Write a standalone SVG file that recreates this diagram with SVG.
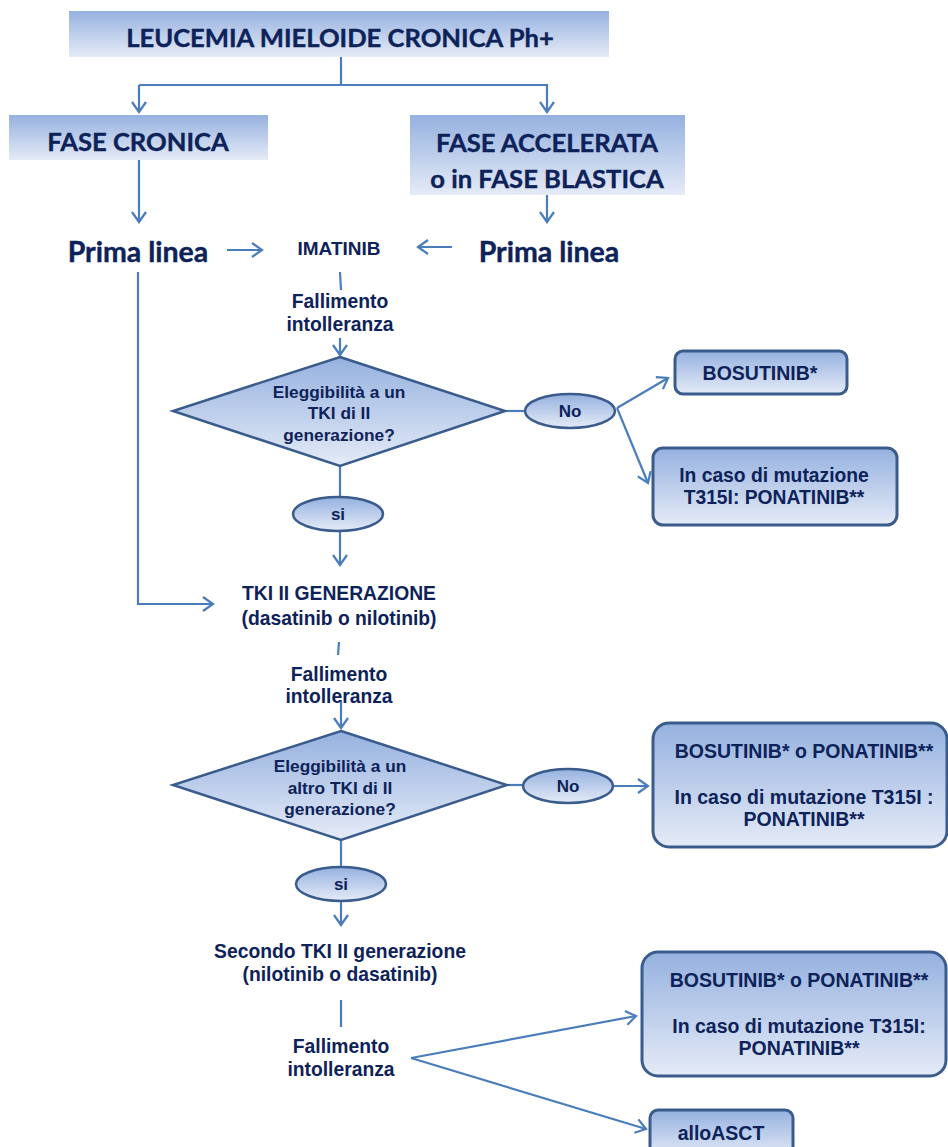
<svg xmlns="http://www.w3.org/2000/svg" width="948" height="1147" viewBox="0 0 948 1147">
<defs>
<linearGradient id="g" x1="0" y1="0" x2="0" y2="1">
<stop offset="0" stop-color="#95b1df"/>
<stop offset="1" stop-color="#e5ebf7"/>
</linearGradient>
<marker id="ah" markerUnits="userSpaceOnUse" markerWidth="20" markerHeight="20" viewBox="-12 -10 14 20" refX="0" refY="0" orient="auto">
<path d="M-10,-7 L0,0 L-10,7" fill="none" stroke="#4a7dbb" stroke-width="2.2"/>
</marker>
<style>
.hd{font-family:Lato,"Liberation Sans",sans-serif;font-weight:bold;fill:#0d2259;text-anchor:middle;stroke:#0d2259;stroke-width:0.4}
.t{font-family:"Liberation Sans",Arial,sans-serif;font-weight:bold;fill:#0d2259;text-anchor:middle}
.c{fill:none;stroke:#4a7dbb;stroke-width:2.2}
.a{fill:none;stroke:#4a7dbb;stroke-width:2.2;marker-end:url(#ah)}
.bx{fill:url(#g);stroke:#3a5c8c;stroke-width:3}
.dm{fill:url(#g);stroke:#3a5c8c;stroke-width:2.5}
.hb{fill:url(#g)}
</style>
</defs>
<rect width="948" height="1147" fill="#ffffff"/>

<g id="connectors">
<path class="c" d="M341,57 V85 H139"/>
<path class="a" d="M139,85 V112"/>
<path class="a" d="M341,85 H547 V112"/>
<path class="a" d="M139,160 V222"/>
<path class="a" d="M547,195 V222"/>
<path class="a" d="M227,250 H262"/>
<path class="a" d="M452,247 H418"/>
<path class="c" d="M340,272 L341,290"/>
<path class="a" d="M340,338 V355"/>
<path class="c" d="M505,411 H527"/>
<path class="a" d="M617,408 L668,378"/>
<path class="a" d="M617,408 L648,483"/>
<path class="c" d="M340,466 V497"/>
<path class="a" d="M340,531 V565"/>
<path class="a" d="M138,272 V604 H213"/>
<path class="c" d="M339,642 L338,655"/>
<path class="a" d="M341,700 V728"/>
<path class="c" d="M507,785 H525"/>
<path class="a" d="M613,786 H648"/>
<path class="c" d="M341,840 V868"/>
<path class="a" d="M341,901 V925"/>
<path class="c" d="M341,1000 V1027"/>
<path class="a" d="M411,1058 L636,1016"/>
<path class="a" d="M411,1058 L646,1129"/>
</g>

<g id="title">
<rect class="hb" x="69" y="11" width="540" height="46"/>
<text class="hd" x="340" y="47" font-size="25.6">LEUCEMIA MIELOIDE CRONICA Ph+</text>
</g>
<g id="fase-cronica">
<rect class="hb" x="9" y="115" width="259" height="45"/>
<text class="hd" x="138" y="151" font-size="25.6">FASE CRONICA</text>
</g>
<g id="fase-accelerata">
<rect class="hb" x="410" y="115" width="275" height="80"/>
<text class="hd" x="547" y="152" font-size="25.6">FASE ACCELERATA</text>
<text class="hd" x="547" y="188" font-size="25.6">o in FASE BLASTICA</text>
</g>
<g id="prima-linea-sx">
<text class="hd" x="138" y="262" font-size="28.5">Prima linea</text>
</g>
<g id="prima-linea-dx">
<text class="hd" x="549" y="262" font-size="28.5">Prima linea</text>
</g>
<g id="imatinib">
<text class="t" x="339" y="255" font-size="19">IMATINIB</text>
</g>
<g id="fallimento-1">
<text class="t" x="340" y="308" font-size="19.3">Fallimento</text>
<text class="t" x="340" y="331" font-size="19.3">intolleranza</text>
</g>
<g id="decisione-1">
<polygon class="dm" points="340,357 505,411 340,466 173,411"/>
<text class="t" x="339" y="398" font-size="17.3">Eleggibilità a un</text>
<text class="t" x="339" y="419" font-size="17.3">TKI di II</text>
<text class="t" x="339" y="441" font-size="17.3">generazione?</text>
</g>
<g id="no-1">
<ellipse class="dm" cx="570" cy="411" rx="45" ry="17"/>
<text class="t" x="570" y="417" font-size="17">No</text>
</g>
<g id="bosutinib-1">
<rect class="bx" x="675" y="351" width="172" height="43" rx="8"/>
<text class="t" x="760" y="380" font-size="19.5">BOSUTINIB*</text>
</g>
<g id="ponatinib-1">
<rect class="bx" x="653" y="448" width="244" height="77" rx="10"/>
<text class="t" x="774" y="482" font-size="19.3">In caso di mutazione</text>
<text class="t" x="774" y="504" font-size="19.3">T315I: PONATINIB**</text>
</g>
<g id="si-1">
<ellipse class="dm" cx="338" cy="514" rx="45" ry="17"/>
<text class="t" x="338" y="520" font-size="17">si</text>
</g>
<g id="tki-ii">
<text class="t" x="339" y="600" font-size="19.3">TKI II GENERAZIONE</text>
<text class="t" x="339" y="625" font-size="19.3">(dasatinib o nilotinib)</text>
</g>
<g id="fallimento-2">
<text class="t" x="339" y="681" font-size="19.3">Fallimento</text>
<text class="t" x="339" y="703" font-size="19.3">intolleranza</text>
</g>
<g id="decisione-2">
<polygon class="dm" points="341,731 507,785 341,840 173,785"/>
<text class="t" x="340" y="772" font-size="17.3">Eleggibilità a un</text>
<text class="t" x="340" y="794" font-size="17.3">altro TKI di II</text>
<text class="t" x="340" y="815" font-size="17.3">generazione?</text>
</g>
<g id="no-2">
<ellipse class="dm" cx="568" cy="786" rx="45" ry="17"/>
<text class="t" x="568" y="792" font-size="17">No</text>
</g>
<g id="opzioni-2">
<rect class="bx" x="653" y="723" width="294" height="124" rx="16"/>
<text class="t" x="804" y="758" font-size="19.5">BOSUTINIB* o PONATINIB**</text>
<text class="t" x="804" y="804" font-size="19.5">In caso di mutazione T315I :</text>
<text class="t" x="804" y="826" font-size="19.5">PONATINIB**</text>
</g>
<g id="si-2">
<ellipse class="dm" cx="341" cy="884" rx="45" ry="17"/>
<text class="t" x="341" y="890" font-size="17">si</text>
</g>
<g id="secondo-tki">
<text class="t" x="340" y="958" font-size="19.3">Secondo TKI II generazione</text>
<text class="t" x="340" y="981" font-size="19.3">(nilotinib o dasatinib)</text>
</g>
<g id="fallimento-3">
<text class="t" x="341" y="1053" font-size="19.3">Fallimento</text>
<text class="t" x="341" y="1076" font-size="19.3">intolleranza</text>
</g>
<g id="opzioni-3">
<rect class="bx" x="642" y="952" width="304" height="124" rx="16"/>
<text class="t" x="799" y="987" font-size="19.5">BOSUTINIB* o PONATINIB**</text>
<text class="t" x="799" y="1033" font-size="19.5">In caso di mutazione T315I:</text>
<text class="t" x="799" y="1055" font-size="19.5">PONATINIB**</text>
</g>
<g id="alloasct">
<rect class="bx" x="650" y="1110" width="143" height="48" rx="8"/>
<text class="t" x="721" y="1140" font-size="19.5">alloASCT</text>
</g>
</svg>
